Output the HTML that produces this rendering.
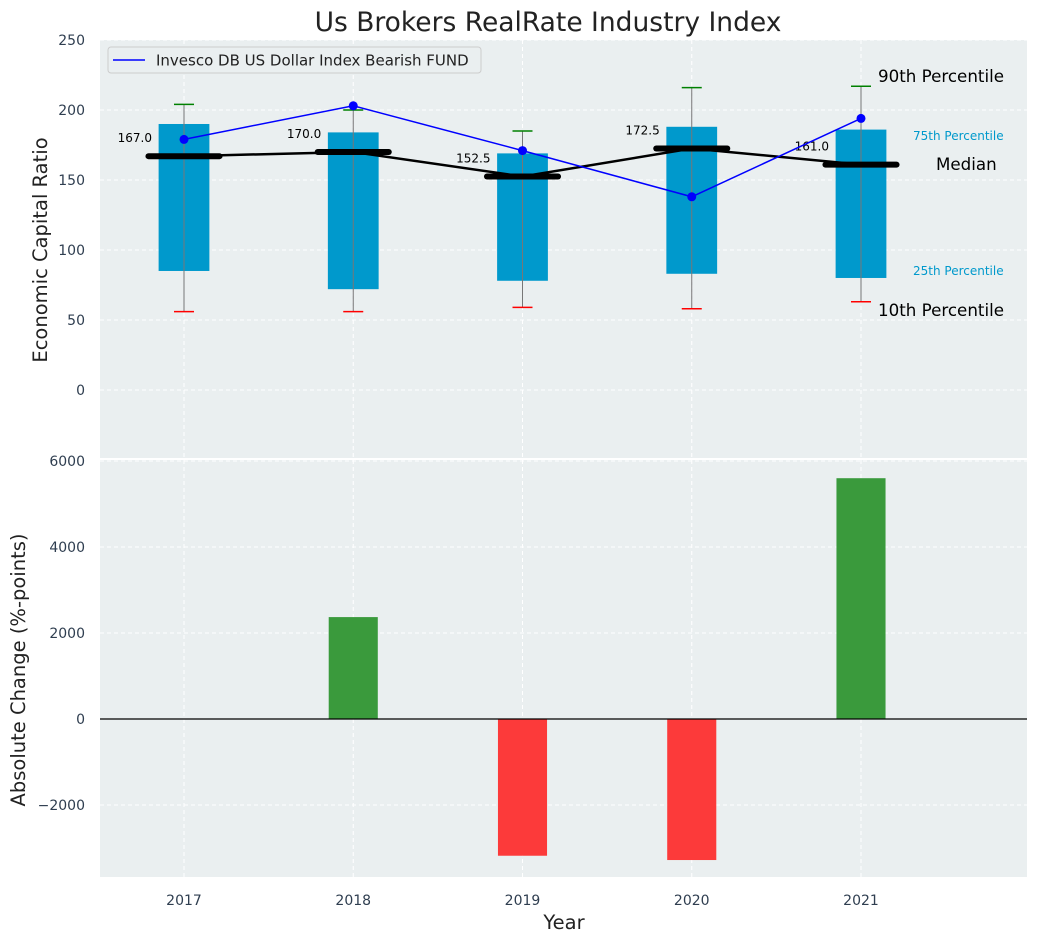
<!DOCTYPE html>
<html><head><meta charset="utf-8"><style>
html,body{margin:0;padding:0;background:#fff;}
svg{display:block;font-family:"DejaVu Sans","Liberation Sans",sans-serif;}
</style></head><body>
<svg id="chart" width="1039" height="942" viewBox="0 0 1039 942"></svg>
<script>
const years=[2017,2018,2019,2020,2021];
const q1=[85,72,78,83,80];
const q3=[190,184,169,188,186];
const p10=[56,56,59,58,63];
const p90=[204,200,185,216,217];
const medians=[167,170,152.5,172.5,161];
const fundValues=[179,203,171,138,194];
const changes=[0,2370,-3180,-3280,5600];
const topTicks=[0,50,100,150,200,250];
const botTicks=[-2000,0,2000,4000,6000];

const NS="http://www.w3.org/2000/svg";
const svg=document.getElementById('chart');
function el(tag,attrs,parent){const e=document.createElementNS(NS,tag);for(const k in attrs)e.setAttribute(k,attrs[k]);(parent||svg).appendChild(e);return e;}
const L=100,R=1027;
const pxPerX=169.25;
const x=v=>184+(v-2017)*pxPerX;
const T0=40,T1=458;
const yT=v=>T1-(v+48.6)/(250+48.6)*(T1-T0);
const B0=460,B1=877;
const yB=v=>719-v*0.043;

let r=el('rect',{x:L,y:T0,width:R-L,height:T1-T0,fill:'#eaeff0'});

r=el('rect',{x:L,y:B0,width:R-L,height:B1-B0,fill:'#eaeff0'});


let t=el('text',{x:548,y:31,'font-size':26.5,'text-anchor':'middle',fill:'#222'});t.textContent='Us Brokers RealRate Industry Index';


topTicks.forEach(v=>{
 const g=el('line',{x1:L,x2:R,y1:yT(v),y2:yT(v),stroke:'#fff','stroke-dasharray':'4,3','stroke-width':1});
 
 const tx=el('text',{x:85,y:yT(v)+5,'font-size':14,'text-anchor':'end',fill:'#2f3e50'});tx.textContent=v;
 
});
botTicks.forEach(v=>{
 if(v!==0){const g=el('line',{x1:L,x2:R,y1:yB(v),y2:yB(v),stroke:'#fff','stroke-dasharray':'4,3','stroke-width':1});
 }
 const tx=el('text',{x:85,y:yB(v)+5,'font-size':14,'text-anchor':'end',fill:'#2f3e50'});tx.textContent=(v<0?'\u2212'+(-v):v);
 
});
years.forEach(yr=>{
 [[T0,T1],[B0,B1]].forEach(([a,b])=>{const g=el('line',{x1:x(yr),x2:x(yr),y1:a,y2:b,stroke:'#fff','stroke-dasharray':'4,3'});});
 const tx=el('text',{x:x(yr),y:905,'font-size':14,'text-anchor':'middle',fill:'#2f3e50'});tx.textContent=yr;
 
});

t=el('text',{x:0,y:0,'font-size':19.5,'text-anchor':'middle',fill:'#222',transform:'translate(47,250) rotate(-90)'});t.textContent='Economic Capital Ratio';

t=el('text',{x:0,y:0,'font-size':19.5,'text-anchor':'middle',fill:'#222',transform:'translate(25,670) rotate(-90)'});t.textContent='Absolute Change (%-points)';

t=el('text',{x:564,y:929,'font-size':19.5,'text-anchor':'middle',fill:'#222'});t.textContent='Year';


years.forEach((yr,i)=>{
 const cx=x(yr),bw=0.3*pxPerX;
 const b=el('rect',{x:cx-bw/2,y:yT(q3[i]),width:bw,height:yT(q1[i])-yT(q3[i]),fill:'#0099cc'});
 
 const w=el('line',{x1:cx,x2:cx,y1:yT(p90[i]),y2:yT(p10[i]),stroke:'#777','stroke-width':1});
 
 const c1=el('line',{x1:cx-10,x2:cx+10,y1:yT(p90[i]),y2:yT(p90[i]),stroke:'green','stroke-width':1.5});
 
 const c2=el('line',{x1:cx-10,x2:cx+10,y1:yT(p10[i]),y2:yT(p10[i]),stroke:'red','stroke-width':1.5});
 
});
let pts=years.map((yr,i)=>x(yr)+','+yT(medians[i])).join(' ');
let pl=el('polyline',{points:pts,fill:'none',stroke:'#000','stroke-width':2.5});

years.forEach((yr,i)=>{
 const cx=x(yr),hw=0.21*pxPerX;
 const m=el('line',{x1:cx-hw,x2:cx+hw,y1:yT(medians[i]),y2:yT(medians[i]),stroke:'#000','stroke-width':6,'stroke-linecap':'round'});
 
 const lb=el('text',{x:cx-32,y:yT(medians[i])-14,'font-size':12,'text-anchor':'end',fill:'#000'});lb.textContent=medians[i].toFixed(1);
 
});
pts=years.map((yr,i)=>x(yr)+','+yT(fundValues[i])).join(' ');
pl=el('polyline',{points:pts,fill:'none',stroke:'blue','stroke-width':1.5});

years.forEach((yr,i)=>{
 const p=el('circle',{cx:x(yr),cy:yT(fundValues[i]),r:4.5,fill:'blue'});
 
});

const ann=[['90th Percentile',878,82,16.7,'#000'],['75th Percentile',913,140,12,'#0099cc'],['Median',936,170,16.7,'#000'],['25th Percentile',913,275,12,'#0099cc'],['10th Percentile',878,316,16.7,'#000']];
ann.forEach(a=>{const e=el('text',{x:a[1],y:a[2],'font-size':a[3],fill:a[4]});e.textContent=a[0];
 });

const lg=el('g',{});

el('rect',{x:108,y:47,width:373,height:26,rx:3,fill:'#eaeff0',stroke:'#ccc'},lg);
el('line',{x1:113,x2:145,y1:60,y2:60,stroke:'blue','stroke-width':1.5},lg);
t=el('text',{x:156,y:65.5,'font-size':15,fill:'#222'},lg);t.textContent='Invesco DB US Dollar Index Bearish FUND';

years.forEach((yr,i)=>{
 const v=changes[i];if(v===0)return;
 const bw=0.29*pxPerX;
 const b=el('rect',{x:x(yr)-bw/2,y:Math.min(yB(v),yB(0)),width:bw,height:Math.abs(yB(v)-yB(0)),fill:v>0?'#3a9a3c':'#fc3a3a'});
 
});
const z=el('line',{x1:L,x2:R,y1:yB(0),y2:yB(0),stroke:'#000','stroke-width':1.2});

</script>
</body></html>
